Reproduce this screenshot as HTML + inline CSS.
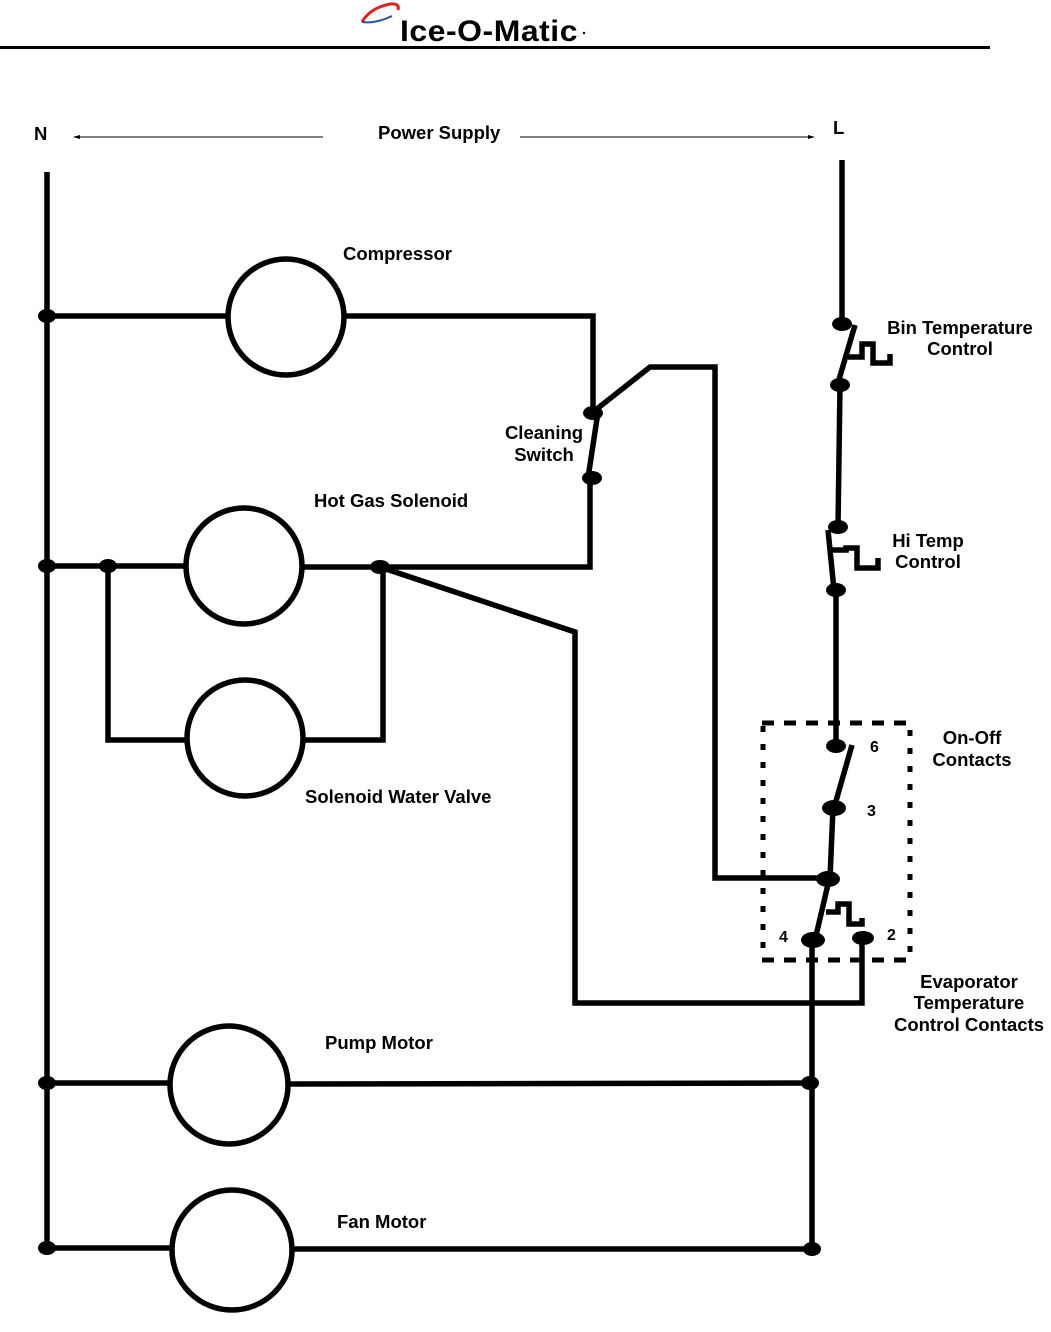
<!DOCTYPE html>
<html><head><meta charset="utf-8"><style>
body{margin:0;background:#fff;}
svg{display:block;}
text{font-family:"Liberation Sans",Arial,sans-serif;font-weight:bold;font-size:18.5px;fill:#000;}
</style></head><body>
<svg width="1051" height="1332" viewBox="0 0 1051 1332" xmlns="http://www.w3.org/2000/svg">
<!-- header -->
<path d="M362 22 Q370 8 390 4 Q400 3 398 10" stroke="#d22" stroke-width="3" fill="none"/>
<path d="M362 22 Q375 24 392 16" stroke="#2a4fa0" stroke-width="2" fill="none"/>
<text x="400" y="41" style="font-size:30px;letter-spacing:0.5px" textLength="178" lengthAdjust="spacingAndGlyphs">Ice-O-Matic</text>
<circle cx="584" cy="33" r="1.2" fill="#000"/>
<rect x="0" y="46" width="990" height="3" fill="#000"/>

<!-- power supply -->
<text x="34" y="140">N</text>
<text x="833" y="134">L</text>
<text x="378" y="139">Power Supply</text>
<line x1="74" y1="137" x2="323" y2="137" stroke="#000" stroke-width="1"/>
<path d="M73 137 l7 -2 v4z" fill="#000"/>
<line x1="520" y1="137" x2="812" y2="137" stroke="#000" stroke-width="1"/>
<path d="M815 137 l-7 -2 v4z" fill="#000"/>

<g stroke="#000" stroke-width="5.5" fill="none" stroke-linejoin="miter">
<line x1="47" y1="172" x2="47" y2="1250"/>
<line x1="842" y1="160" x2="842" y2="323"/>
<path d="M855 325 L838 383"/>
<path d="M848 357 H862 V344 H873 V363 H890 V354"/>
<line x1="840" y1="385" x2="838" y2="527"/>
<path d="M828 530 L834 590"/>
<path d="M832 550 H846 V548 H857 V568 H878 V558"/>
<line x1="836" y1="590" x2="836" y2="745"/>
<path d="M852 745 L834 808"/>
<line x1="833" y1="808" x2="830" y2="878"/>
<path d="M829 880 L815 940"/>
<path d="M826 912 H838 V904 H849 V924 H862 V918"/>
<line x1="812" y1="940" x2="812" y2="1250"/>
<path d="M862 938 V1003 H575 V632 L380 567"/>
<path d="M828 878 H715 V367 H650 L593 412"/>
<circle cx="286" cy="317" r="58"/>
<path d="M47 316 H228"/>
<path d="M344 316 H593 V412"/>
<path d="M598 412 L588 478"/>
<path d="M590 478 V567 H302"/>
<circle cx="244" cy="566" r="58"/>
<line x1="47" y1="566" x2="186" y2="566"/>
<path d="M108 566 V740 H187"/>
<circle cx="245" cy="738" r="58"/>
<path d="M303 740 H383 V567"/>
<circle cx="229" cy="1085" r="59"/>
<line x1="47" y1="1083" x2="170" y2="1083"/>
<line x1="288" y1="1084" x2="812" y2="1083"/>
<circle cx="232" cy="1250" r="60"/>
<line x1="47" y1="1248" x2="172" y2="1248"/>
<line x1="292" y1="1249" x2="812" y2="1249"/>
</g>
<!-- dashed box -->
<g stroke="#000" stroke-width="5" fill="none">
<line x1="762" y1="723" x2="910" y2="723" stroke-dasharray="12 10"/>
<line x1="762" y1="960" x2="910" y2="960" stroke-dasharray="12 10"/>
<line x1="763" y1="726" x2="763" y2="958" stroke-dasharray="6 12"/>
<line x1="910" y1="730" x2="910" y2="958" stroke-dasharray="6 12"/>
</g>
<g fill="#000">
<ellipse cx="47" cy="316" rx="9" ry="7"/>
<ellipse cx="47" cy="566" rx="9" ry="7"/>
<ellipse cx="108" cy="566" rx="9" ry="7"/>
<ellipse cx="380" cy="567" rx="10" ry="7"/>
<ellipse cx="47" cy="1083" rx="9" ry="7"/>
<ellipse cx="47" cy="1248" rx="9" ry="7"/>
<ellipse cx="810" cy="1083" rx="9" ry="7"/>
<ellipse cx="812" cy="1249" rx="9" ry="7"/>
<ellipse cx="593" cy="413" rx="10" ry="7"/>
<ellipse cx="592" cy="478" rx="10" ry="7"/>
<ellipse cx="842" cy="324" rx="10" ry="7"/>
<ellipse cx="840" cy="385" rx="10" ry="7"/>
<ellipse cx="838" cy="527" rx="10" ry="7"/>
<ellipse cx="836" cy="590" rx="10" ry="7"/>
<ellipse cx="836" cy="746" rx="10" ry="7"/>
<ellipse cx="834" cy="808" rx="12" ry="8"/>
<ellipse cx="828" cy="879" rx="12" ry="8"/>
<ellipse cx="813" cy="940" rx="12" ry="8"/>
<ellipse cx="863" cy="938" rx="11" ry="7"/>
</g>
<text x="343" y="260">Compressor</text>
<text x="544" y="439" text-anchor="middle">Cleaning</text>
<text x="544" y="461" text-anchor="middle">Switch</text>
<text x="314" y="507">Hot Gas Solenoid</text>
<text x="305" y="803">Solenoid Water Valve</text>
<text x="325" y="1049">Pump Motor</text>
<text x="337" y="1228">Fan Motor</text>
<text x="960" y="334" text-anchor="middle">Bin Temperature</text>
<text x="960" y="355" text-anchor="middle">Control</text>
<text x="928" y="547" text-anchor="middle">Hi Temp</text>
<text x="928" y="568" text-anchor="middle">Control</text>
<text x="972" y="744" text-anchor="middle">On-Off</text>
<text x="972" y="766" text-anchor="middle">Contacts</text>
<text x="969" y="988" text-anchor="middle">Evaporator</text>
<text x="969" y="1009" text-anchor="middle">Temperature</text>
<text x="969" y="1031" text-anchor="middle">Control Contacts</text>
<text x="870" y="752" style="font-size:16px">6</text>
<text x="867" y="816" style="font-size:16px">3</text>
<text x="779" y="942" style="font-size:16px">4</text>
<text x="887" y="940" style="font-size:16px">2</text>
</svg>
</body></html>
